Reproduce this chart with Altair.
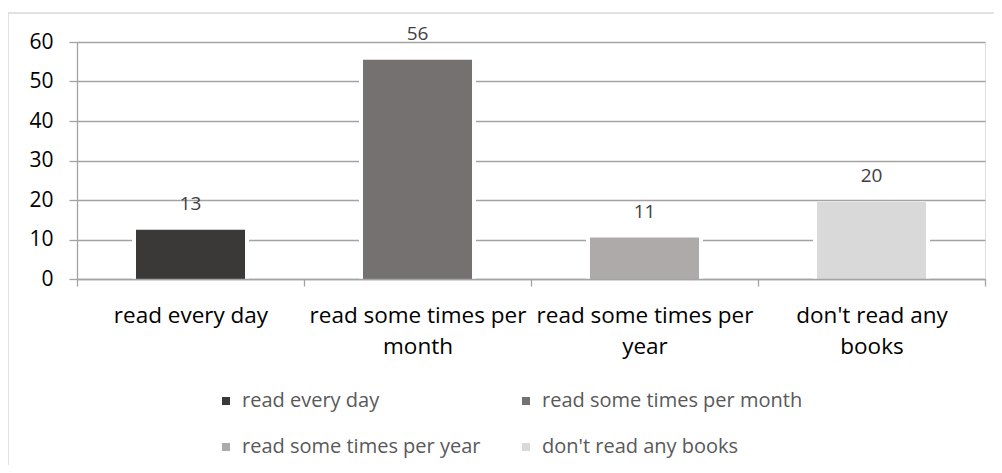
import json
import altair as alt
import pandas as pd

# ---- data ----
categories = [
    "read every day",
    "read some times per month",
    "read some times per year",
    "don't read any books",
]
values = [12.5, 55.5, 10.5, 19.5]
x_label_lines = [
    ["read every day"],
    ["read some times per", "month"],
    ["read some times per", "year"],
    ["don't read any", "books"],
]
bar_colors = ["#3b3838", "#767171", "#aeaaaa", "#d9d9d9"]
y_ticks = [0, 10, 20, 30, 40, 50, 60]

df = pd.DataFrame({"category": categories, "value": values})

FONT = "Open Sans"
GRID = "#a3a3a3"

label_map = json.dumps(dict(zip(categories, x_label_lines)))

x_enc = alt.X(
    "category:N",
    sort=categories,
    scale=alt.Scale(paddingInner=0, paddingOuter=0),
    axis=alt.Axis(
        title=None,
        labelAngle=0,
        labelExpr=f"{label_map}[datum.label]",
        labelFont=FONT,
        labelFontSize=22.5,
        labelColor="#000000",
        labelLineHeight=31.6,
        labelPadding=18,
        labelLimit=400,
        labelOverlap=False,
        tickBand="extent",
        ticks=True,
        tickSize=7,
        tickColor=GRID,
        tickWidth=1.3,
        domain=True,
        domainColor=GRID,
        domainWidth=1.3,
        grid=False,
        zindex=1,
    ),
)

y_enc = alt.Y(
    "value:Q",
    scale=alt.Scale(domain=[0, 60], nice=False),
    axis=alt.Axis(
        title=None,
        values=y_ticks,
        tickCount=7,
        labelOverlap=False,
        labelFont=FONT,
        labelFontSize=21,
        labelColor="#000000",
        labelPadding=16,
        ticks=True,
        tickSize=8,
        tickColor=GRID,
        tickWidth=1.3,
        domain=True,
        domainColor=GRID,
        domainWidth=1.3,
        grid=True,
        gridColor=GRID,
        gridWidth=1.3,
    ),
)

base = alt.Chart(df)

frame = alt.Chart(pd.DataFrame({"f": [0]})).mark_rect(
    fill=None, stroke="#d9d9d9", strokeWidth=1.5
).encode(
    x=alt.value(-69), x2=alt.value(930), y=alt.value(-29), y2=alt.value(440)
)

backing = base.mark_bar(color="#ffffff", size=117).encode(x=x_enc, y=y_enc)

bars = base.mark_bar(size=109).encode(
    x=x_enc,
    y=y_enc,
    color=alt.Color(
        "category:N",
        sort=categories,
        scale=alt.Scale(domain=categories, range=bar_colors),
        legend=alt.Legend(
            title=None,
            orient="none",
            direction="horizontal",
            legendX=139,
            legendY=349,
            columns=2,
            symbolType="square",
            symbolSize=64,
            symbolStrokeWidth=0,
            labelFont=FONT,
            labelFontSize=20,
            labelColor="#595959",
            labelOffset=6,
            labelLimit=400,
            columnPadding=35,
            rowPadding=26,
            padding=0,
        ),
    ),
)

labels = base.mark_text(
    baseline="alphabetic", dy=-20, font=FONT, fontSize=19, color="#404040"
).encode(
    x=x_enc,
    y=y_enc,
    text=alt.Text("value:Q", format=".0f"),
)

chart = (
    alt.layer(frame, backing, bars, labels)
    .properties(
        width=908,
        height=237,
        padding={"left": 69, "top": 34, "right": 9, "bottom": 186},
        autosize=alt.AutoSizeParams(type="none"),
    )
    .configure_view(stroke=None)
    .configure(background="#ffffff")
)

chart.save("out.html", embed_options={"renderer": "svg", "actions": False})
